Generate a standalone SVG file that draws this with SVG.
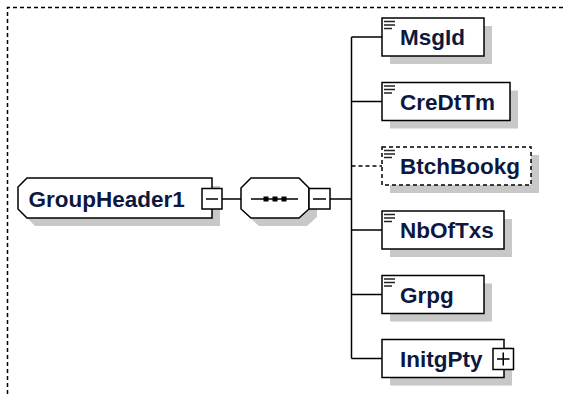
<svg xmlns="http://www.w3.org/2000/svg" width="563" height="394" viewBox="0 0 563 394">
<style>
.box{fill:#fff;stroke:#000;stroke-width:1.5}
.opt{stroke-dasharray:4 3}
.shadow{fill:#c8c8c8;stroke:none}
.lbl{font-family:"Liberation Sans",Arial,sans-serif;font-weight:bold;font-size:22.5px;fill:#0c1840}
.icon{stroke:#222;stroke-width:1.4;fill:none}
.pm{fill:#fff;stroke:#000;stroke-width:1.5}
.sign{stroke:#000;stroke-width:1.5;fill:none}
.conn{stroke:#000;stroke-width:1.5;fill:none}
</style>
<defs>
<g id="docicon"><path class="icon" d="M2,3.5h11M2,7h11M2,10.5h8"/></g>
</defs>
<path d="M7.5,394V7.5H563" fill="none" stroke="#000" stroke-width="1.5" stroke-dasharray="4 3"/>
<g id="connectors">
<path class="conn" d="M222,199H241M330,199H351.5M351.5,37V358.5M351.5,37H382M351.5,101.5H382M351.5,230H382M351.5,294.5H382M351.5,358.5H382"/>
<path class="conn opt" d="M351.5,166H382"/>
</g>
<g id="GroupHeader1">
<path class="shadow" d="M35,186H220V226H35L26,217V195Z"/>
<path class="box" d="M27,178H212V218H27L18,209V187Z"/>
<text class="lbl" x="28.5" y="207">GroupHeader1</text>
<rect class="pm" x="202" y="188.5" width="20" height="20.5"/>
<path class="sign" d="M206,199H218"/>
</g>
<g id="sequence">
<path class="shadow" d="M259,186H307L317,196V217L307,226H259L249,217V196Z"/>
<path class="box" d="M251,178H299L309,188V209L299,218H251L241,209V188Z"/>
<path class="sign" d="M251,199H298"/>
<rect x="263.5" y="196.5" width="5" height="5" fill="#000"/>
<rect x="272.5" y="196.5" width="5" height="5" fill="#000"/>
<rect x="281.5" y="196.5" width="5" height="5" fill="#000"/>
<rect class="pm" x="309" y="188.5" width="21" height="20.5"/>
<path class="sign" d="M313,199H326"/>
</g>
<g id="MsgId">
<rect class="shadow" x="390" y="26" width="102" height="38"/>
<rect class="box" x="382" y="18" width="102" height="38"/>
<use href="#docicon" x="382" y="18"/>
<text class="lbl" x="400" y="45">MsgId</text>
</g>
<g id="CreDtTm">
<rect class="shadow" x="390" y="90.5" width="128" height="38"/>
<rect class="box" x="382" y="82.5" width="128" height="38"/>
<use href="#docicon" x="382" y="82.5"/>
<text class="lbl" x="400" y="109.5">CreDtTm</text>
</g>
<g id="BtchBookg">
<rect class="shadow" x="390" y="155" width="149" height="38"/>
<rect class="box opt" x="382" y="147" width="149" height="38"/>
<use href="#docicon" x="382" y="147"/>
<text class="lbl" x="400" y="174">BtchBookg</text>
</g>
<g id="NbOfTxs">
<rect class="shadow" x="390" y="219" width="122" height="38"/>
<rect class="box" x="382" y="211" width="122" height="38"/>
<use href="#docicon" x="382" y="211"/>
<text class="lbl" x="400" y="238">NbOfTxs</text>
</g>
<g id="Grpg">
<rect class="shadow" x="390" y="283.5" width="102" height="38"/>
<rect class="box" x="382" y="275.5" width="102" height="38"/>
<use href="#docicon" x="382" y="275.5"/>
<text class="lbl" x="400" y="302.5">Grpg</text>
</g>
<g id="InitgPty">
<rect class="shadow" x="390" y="347.5" width="122" height="38"/>
<rect class="box" x="382" y="339.5" width="122" height="38"/>
<text class="lbl" x="400" y="366.5">InitgPty</text>
<rect class="pm" x="493" y="348.5" width="20.5" height="21"/>
<path class="sign" d="M497,359H509.5M503.25,352.5V365.5"/>
</g>
</svg>
